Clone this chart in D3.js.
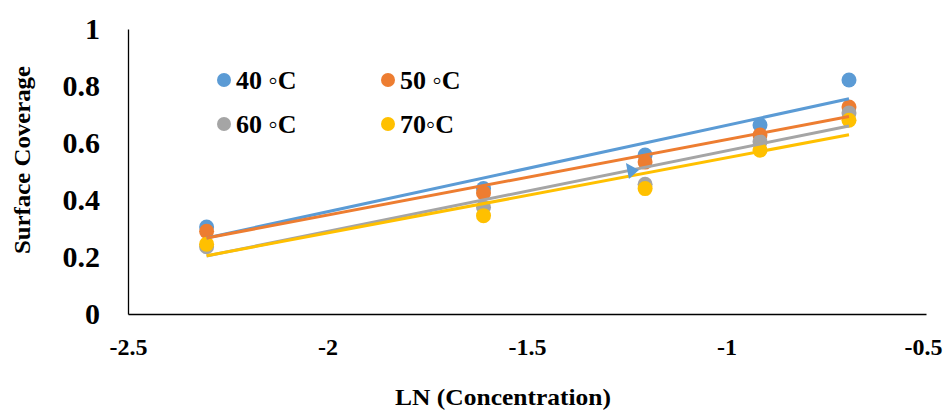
<html>
<head><meta charset="utf-8"></head>
<script src='https://d3js.org/d3.v7.min.js'></script>
<style>
body {margin:0; background:#fff;}
text {font-family: 'Liberation Serif', 'Times New Roman', serif; font-weight: bold; fill:#000;}
</style>
<body>
<svg width=946 height=410></svg>
<script>
// ln(concentration) for the five samples
var lnConc = [-2.303, -1.609, -1.204, -0.916, -0.693];
var cov40 = [0.305, 0.44, 0.558, 0.663, 0.821];
var cov50 = [0.29, 0.425, 0.533, 0.628, 0.726];
var cov60 = [0.236, 0.375, 0.455, 0.604, 0.705];
var cov70 = [0.245, 0.345, 0.44, 0.575, 0.68];
var seriesNames = ['40 \u25E6C', '50 \u25E6C', '60 \u25E6C', '70\u25E6C'];
var colors = ['#5B9BD5', '#ED7D31', '#A5A5A5', '#FFC000'];
var xTicks = [-2.5, -2, -1.5, -1, -0.5];
var yTicks = [0, 0.2, 0.4, 0.6, 0.8, 1];
// stray arrow marker on the plot
var arrowPt = [-1.237, 0.498];

var allSeries = [cov40, cov50, cov60, cov70];

var svg = d3.select('svg');
var xs = d3.scaleLinear().domain([-2.5, -0.5]).range([128, 926]);
var ys = d3.scaleLinear().domain([0, 1]).range([314, 29]);
var plain = function(d){ return String(d); };

// axes: lines only, no tick marks
svg.append('g').attr('transform', 'translate(128,0)')
  .call(d3.axisLeft(ys).tickValues(yTicks).tickSize(0).tickPadding(28).tickFormat(plain))
  .call(function(g){ g.select('.domain').attr('stroke','#000').attr('stroke-width',1.3); })
  .selectAll('text').style('font-size','30px').attr('font-family',null);

svg.append('g').attr('transform', 'translate(0,314)')
  .call(d3.axisBottom(xs).tickValues(xTicks).tickSize(0).tickPadding(24).tickFormat(plain))
  .call(function(g){ g.select('.domain').attr('stroke','#000').attr('stroke-width',1.3); })
  .selectAll('text').style('font-size','24px').attr('font-family',null)
  .attr('dx', function(d){ return d === -0.5 ? -3 : 0; });

// least squares trendline
function fit(xv, yv) {
  var mx = d3.mean(xv), my = d3.mean(yv);
  var sxy = d3.sum(xv, function(x,i){ return (x-mx)*(yv[i]-my); });
  var sxx = d3.sum(xv, function(x){ return (x-mx)*(x-mx); });
  var b = sxy/sxx;
  return function(x){ return my + b*(x-mx); };
}

var plot = svg.append('g');

allSeries.forEach(function(s, k){
  plot.selectAll('circle.s'+k).data(s).enter().append('circle')
    .attr('class','s'+k)
    .attr('cx', function(d,i){ return xs(lnConc[i]); })
    .attr('cy', function(d){ return ys(d); })
    .attr('r', 7.5)
    .attr('fill', colors[k]);
});

allSeries.forEach(function(s, k){
  var f = fit(lnConc, s);
  var x0 = d3.min(lnConc), x1 = d3.max(lnConc);
  plot.append('line')
    .attr('x1', xs(x0)).attr('y1', ys(f(x0)))
    .attr('x2', xs(x1)).attr('y2', ys(f(x1)))
    .attr('stroke', colors[k]).attr('stroke-width', 3);
});

// arrow head
var ax = xs(arrowPt[0]), ay = ys(arrowPt[1]);
plot.append('path')
  .attr('d', 'M' + (ax-6) + ',' + (ay-9) + 'L' + (ax+7) + ',' + (ay-2) + 'L' + (ax-3) + ',' + (ay+7) + 'Z')
  .attr('fill', colors[0]);

// legend
var legPos = [[224,80],[388,80],[224,124],[388,124]];
var leg = svg.append('g');
seriesNames.forEach(function(n, k){
  leg.append('circle').attr('cx', legPos[k][0]).attr('cy', legPos[k][1]).attr('r', 7).attr('fill', colors[k]);
  leg.append('text').attr('x', legPos[k][0]+12).attr('y', legPos[k][1]+9)
    .style('font-size','26px').text(n);
});

// axis titles
svg.append('text').attr('transform','translate(30,160) rotate(-90)')
  .attr('text-anchor','middle').style('font-size','23px')
  .attr('textLength', 188).attr('lengthAdjust','spacingAndGlyphs').text('Surface Coverage');
svg.append('text').attr('x', 503).attr('y', 405)
  .attr('text-anchor','middle').style('font-size','23px')
  .attr('textLength', 216).attr('lengthAdjust','spacingAndGlyphs').text('LN (Concentration)');
</script>
</body>
</html>
